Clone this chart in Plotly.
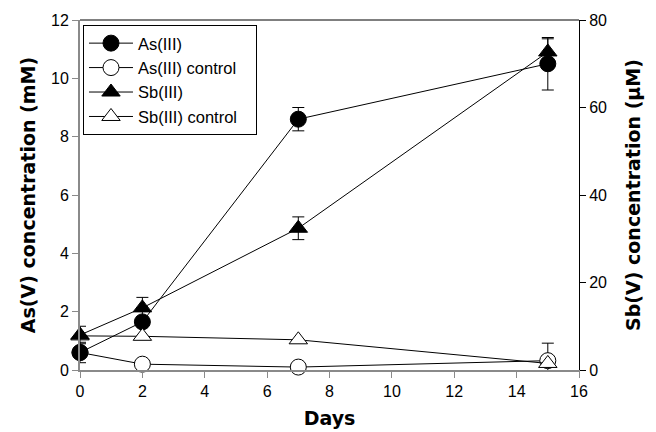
import plotly.graph_objects as go

days = [0, 2, 7, 15]

# As series (left axis, mM)
as_iii = [0.6, 1.65, 8.6, 10.5]
as_iii_err = [0.0, 0.0, 0.4, 0.9]
as_ctrl = [0.6, 0.2, 0.1, 0.32]
as_ctrl_err = [0.35, 0.0, 0.0, 0.6]

# Sb series (right axis, µM)
sb_iii = [8.0, 14.2, 32.4, 72.7]
sb_iii_err = [2.0, 2.4, 2.6, 3.0]
sb_ctrl = [7.8, 7.7, 6.9, 1.5]
sb_ctrl_err = [0.0, 0.0, 0.0, 0.0]

FONT = "Liberation Sans, Arial, sans-serif"
TFONT = "DejaVu Sans, sans-serif"
GREY = "#8a8a8a"
PAD = "\u00a0\u00a0\u00a0"

fig = go.Figure()

def add(name, y, err, symbol, fill, yaxis, rank):
    fig.add_trace(go.Scatter(
        x=days, y=y, name=name, mode="lines+markers", yaxis=yaxis,
        cliponaxis=False, legendrank=rank,
        line=dict(color="black", width=1),
        marker=dict(symbol=symbol, size=16, color=fill,
                    line=dict(color="black", width=1)),
        error_y=dict(type="data", array=err, visible=True,
                     color="black", thickness=1, width=6),
    ))

add("As(III) control" + PAD, as_ctrl, as_ctrl_err, "circle", "white", "y", 2)
add("Sb(III) control" + PAD, sb_ctrl, sb_ctrl_err, "triangle-up", "white", "y2", 4)
add("As(III)", as_iii, as_iii_err, "circle", "black", "y", 1)
add("Sb(III)", sb_iii, sb_iii_err, "triangle-up", "black", "y2", 3)

fig.update_layout(
    width=656, height=432,
    margin=dict(l=72, r=85, t=12, b=70, autoexpand=False),
    paper_bgcolor="white", plot_bgcolor="white",
    font=dict(family=FONT, size=16, color="black"),
    showlegend=True,
    legend=dict(
        x=0.006, y=0.986, xanchor="left", yanchor="top",
        bgcolor="white", bordercolor="black", borderwidth=1,
        font=dict(family=FONT, size=16.5, color="black"),
        traceorder="normal", tracegroupgap=0,
        itemsizing="trace", itemwidth=44,
    ),
    xaxis=dict(
        range=[0, 16], tickvals=[0, 2, 4, 6, 8, 10, 12, 14, 16],
        showgrid=False, zeroline=False, automargin=False,
        showline=True, linecolor=GREY, linewidth=2,
        ticks="outside", ticklen=6, tickcolor=GREY, tickwidth=1,
        tickfont=dict(family=FONT, size=16),
        title=dict(text="<b>Days</b>", font=dict(family=TFONT, size=19), standoff=12),
    ),
    yaxis=dict(
        range=[0, 12], tickvals=[0, 2, 4, 6, 8, 10, 12],
        showgrid=False, zeroline=False, automargin=False,
        showline=True, linecolor=GREY, linewidth=2,
        ticks="outside", ticklen=6, tickcolor=GREY, tickwidth=1,
        tickfont=dict(family=FONT, size=16),
        title=dict(text="<b>As(V) concentration (mM)</b>", font=dict(family=TFONT, size=19), standoff=10),
    ),
    yaxis2=dict(
        range=[0, 80], tickvals=[0, 20, 40, 60, 80],
        overlaying="y", side="right",
        showgrid=False, zeroline=False, automargin=False,
        showline=True, linecolor="black", linewidth=1,
        ticks="outside", ticklen=6, tickcolor="black", tickwidth=1,
        tickfont=dict(family=FONT, size=16),
        title=dict(text="<b>Sb(V) concentration (µM)</b>", font=dict(family=TFONT, size=19), standoff=20),
    ),
    shapes=[dict(type="line", xref="paper", yref="paper", x0=0, x1=1, y0=1, y1=1,
                 line=dict(color="black", width=1))],
)

fig.write_html("out.html")
